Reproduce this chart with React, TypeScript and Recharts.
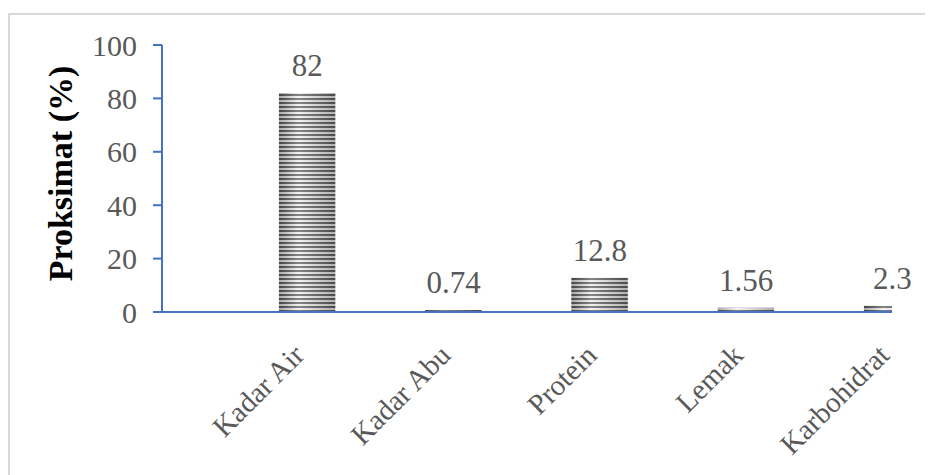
import { Bar, BarChart, LabelList, XAxis, YAxis } from "recharts";

const categories = ["Kadar Air", "Kadar Abu", "Protein", "Lemak", "Karbohidrat"];
const values = [82, 0.74, 12.8, 1.56, 2.3];
const yTicks = [0, 20, 40, 60, 80, 100];

const data = categories.map((name, i) => ({ idx: i, name, value: values[i] }));

const FONT = "'Liberation Serif', 'Times New Roman', serif";
const AXIS = "#4472C4";
const TEXT = "#595959";

function CategoryTick(props: any) {
  const { x, y, payload } = props;
  const tx = x - 1;
  const ty = y + 37;
  return (
    <text
      x={tx}
      y={ty}
      transform={`rotate(-45, ${tx}, ${ty})`}
      textAnchor="end"
      fill={TEXT}
      fontSize={29}
      fontFamily={FONT}
    >
      {categories[payload.value]}
    </text>
  );
}

function YTitle(props: any) {
  const { viewBox } = props;
  const cx = viewBox.x + 72;
  const cy = viewBox.y + viewBox.height / 2 - 5;
  return (
    <text
      x={cx}
      y={cy}
      transform={`rotate(-90, ${cx}, ${cy})`}
      textAnchor="middle"
      fill="#000"
      fontSize={34}
      fontWeight="bold"
      fontFamily={FONT}
    >
      Proksimat (%)
    </text>
  );
}

export default function App() {
  return (
    <div style={{ position: "relative", width: 925, height: 467, overflow: "hidden" }}>
      <div
        style={{
          position: "absolute",
          left: 0,
          top: 5,
          width: 1000,
          height: 1000,
          border: "2px solid #d9d9d9",
        }}
      />
      <div style={{ position: "absolute", left: -8, top: -8 }}>
        <BarChart
          width={933}
          height={475}
          data={data}
          margin={{ top: 45, right: 41, bottom: 0, left: 0 }}
        >
          <defs>
            <linearGradient id="lightStripe" x1="0" y1="0" x2="1" y2="0">
              <stop offset="0%" stopColor="#a8a8a8" />
              <stop offset="35%" stopColor="#f2f2f2" />
              <stop offset="100%" stopColor="#b0b0b0" />
            </linearGradient>
            <linearGradient id="darkStripe" x1="0" y1="0" x2="1" y2="0">
              <stop offset="0%" stopColor="#444444" />
              <stop offset="35%" stopColor="#858585" />
              <stop offset="100%" stopColor="#4a4a4a" />
            </linearGradient>
            <pattern
              id="stripes"
              patternUnits="userSpaceOnUse"
              x={278.5}
              y={0}
              width={146.25}
              height={4}
            >
              <rect x={0} y={0} width={57} height={2} fill="url(#lightStripe)" />
              <rect x={0} y={2} width={57} height={2} fill="url(#darkStripe)" />
            </pattern>
          </defs>
          <XAxis
            type="number"
            dataKey="idx"
            domain={[-0.991, 4]}
            allowDataOverflow
            ticks={[0, 1, 2, 3, 4]}
            interval={0}
            tickLine={false}
            axisLine={{ stroke: AXIS, strokeWidth: 2 }}
            tick={<CategoryTick />}
            height={163}
          />
          <YAxis
            domain={[0, 100]}
            ticks={yTicks}
            interval={0}
            width={162}
            tickSize={9}
            tickMargin={16}
            tickLine={{ stroke: AXIS, strokeWidth: 2 }}
            axisLine={{ stroke: AXIS, strokeWidth: 2 }}
            tick={{ fill: TEXT, fontSize: 30, fontFamily: FONT }}
            label={<YTitle />}
          />
          <Bar dataKey="value" barSize={57} fill="url(#stripes)" isAnimationActive={false}>
            <LabelList
              dataKey="value"
              position="top"
              offset={17}
              fill={TEXT}
              fontSize={31}
              fontFamily={FONT}
            />
          </Bar>
        </BarChart>
      </div>
    </div>
  );
}
